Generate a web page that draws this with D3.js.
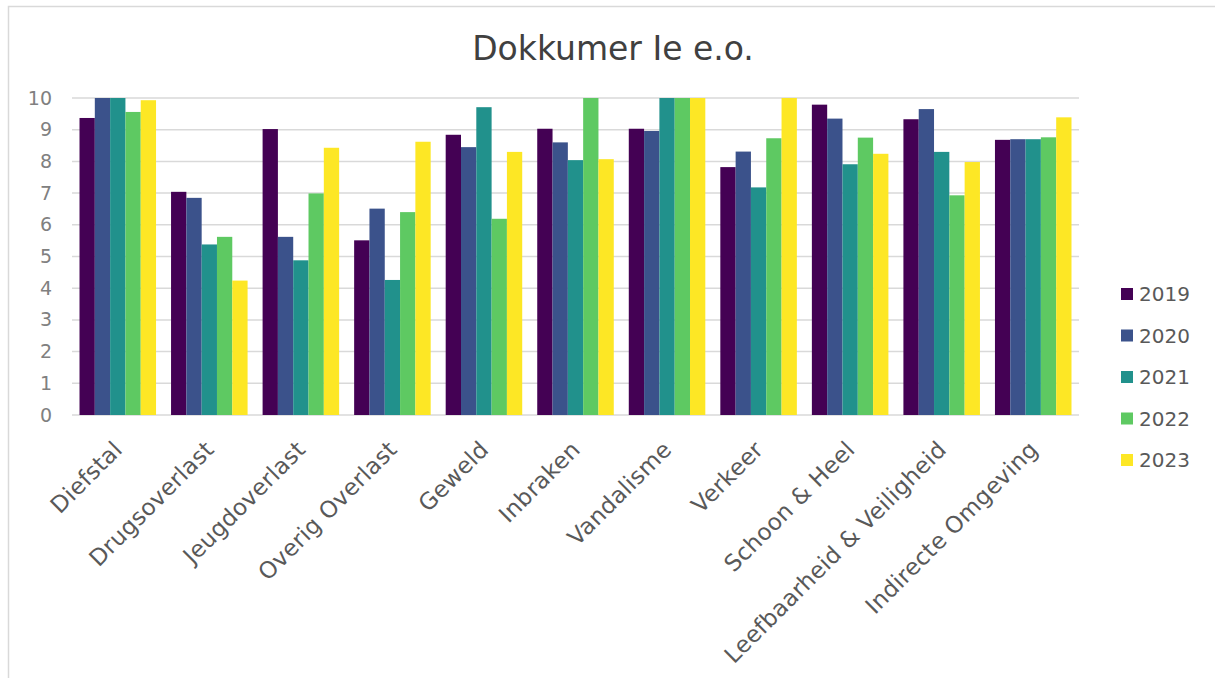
<!DOCTYPE html>
<html>
<head>
<meta charset="utf-8">
<script src="https://cdn.jsdelivr.net/npm/d3@7"></script>
<style>
  html, body { margin: 0; padding: 0; background: #fff; }
  svg { display: block; font-family: "DejaVu Sans", Verdana, sans-serif; }
</style>
</head>
<body>
<svg id="chart" width="1215" height="678"></svg>
<script>
const categories = ["Diefstal", "Drugsoverlast", "Jeugdoverlast", "Overig Overlast", "Geweld", "Inbraken", "Vandalisme", "Verkeer", "Schoon & Heel", "Leefbaarheid & Veiligheid", "Indirecte Omgeving"];
const years = ["2019", "2020", "2021", "2022", "2023"];
const colors = ["#440154", "#3b528b", "#21918c", "#5ec962", "#fde725"];
const v2019 = [9.37, 7.04, 9.02, 5.51, 8.84, 9.03, 9.03, 7.82, 9.79, 9.33, 8.68];
const v2020 = [10.0, 6.85, 5.62, 6.51, 8.45, 8.60, 8.96, 8.31, 9.35, 9.65, 8.70];
const v2021 = [10.0, 5.38, 4.88, 4.26, 9.71, 8.04, 10.0, 7.18, 7.91, 8.30, 8.70];
const v2022 = [9.56, 5.62, 6.99, 6.40, 6.19, 10.0, 10.0, 8.73, 8.75, 6.93, 8.76];
const v2023 = [9.93, 4.24, 8.43, 8.62, 8.30, 8.07, 10.0, 10.0, 8.24, 7.98, 9.39];
const yTicks = [0, 1, 2, 3, 4, 5, 6, 7, 8, 9, 10];
const title = "Dokkumer Ie e.o.";

(function () {
const series = [v2019, v2020, v2021, v2022, v2023];
const svg = d3.select("#chart");

// outer border
svg.append("rect")
  .attr("x", 8.5).attr("y", 6.5).attr("width", 1215).attr("height", 700)
  .attr("fill", "none").attr("stroke", "#d9d9d9").attr("stroke-width", 1.5);

const pLeft = 72, pRight = 1079, pTop = 98, pBottom = 415;
const x = d3.scaleBand().domain(categories).range([pLeft, pRight]).padding(0);
const x1 = d3.scaleBand().domain(years)
  .range([x.bandwidth() * 0.082, x.bandwidth() * 0.918]).padding(0);
const y = d3.scaleLinear().domain([0, 10]).range([pBottom, pTop]);

// title
svg.append("text")
  .attr("x", 613).attr("y", 60)
  .attr("text-anchor", "middle")
  .attr("font-size", 33).attr("fill", "#404040")
  .text(title);

// gridlines
svg.append("g").selectAll("line").data(yTicks).join("line")
  .attr("x1", pLeft).attr("x2", pRight)
  .attr("y1", d => y(d)).attr("y2", d => y(d))
  .attr("stroke", "#d9d9d9").attr("stroke-width", 1.5);

// y axis labels
const yAxis = d3.axisLeft(y).tickValues(yTicks).tickSize(0).tickPadding(0);
const gy = svg.append("g").attr("transform", `translate(52,0)`).call(yAxis);
gy.select(".domain").remove();
gy.selectAll("text").attr("font-size", 19).attr("fill", "#808080")
  .attr("font-family", "DejaVu Sans, Verdana, sans-serif");

// bars
const groups = svg.append("g").selectAll("g").data(categories).join("g")
  .attr("transform", d => `translate(${x(d)},0)`);
groups.selectAll("rect")
  .data((c, i) => years.map((yr, j) => ({ yr, j, v: series[j][i] })))
  .join("rect")
  .attr("x", d => x1(d.yr))
  .attr("width", x1.bandwidth())
  .attr("y", d => y(d.v))
  .attr("height", d => y(0) - y(d.v))
  .attr("fill", d => colors[d.j]);

// x axis labels
const xAxis = d3.axisBottom(x).tickSize(0).tickPadding(0);
const gx = svg.append("g").attr("transform", `translate(0,${pBottom})`).call(xAxis);
gx.select(".domain").remove();
gx.selectAll("text")
  .attr("font-size", 23).attr("fill", "#595959")
  .attr("letter-spacing", "0.3px")
  .attr("font-family", "DejaVu Sans, Verdana, sans-serif")
  .attr("text-anchor", "end")
  .attr("dy", null).attr("y", null)
  .attr("transform", "translate(6,36) rotate(-45)");

// legend
const lg = svg.append("g").selectAll("g").data(years).join("g")
  .attr("transform", (d, i) => `translate(1121,${294 + i * 41.5})`);
lg.append("rect").attr("x", 0).attr("y", -6).attr("width", 12).attr("height", 12)
  .attr("fill", (d, i) => colors[i]);
lg.append("text").attr("x", 18).attr("y", 0).attr("dy", "0.35em")
  .attr("font-size", 20).attr("fill", "#595959").text(d => d);
})();
</script>
</body>
</html>
